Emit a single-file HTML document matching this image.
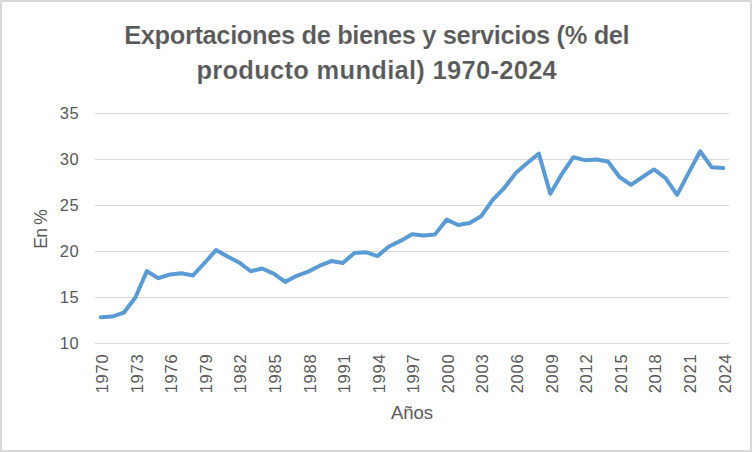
<!DOCTYPE html>
<html><head><meta charset="utf-8"><style>
html,body{margin:0;padding:0;background:#fff;}
body{width:752px;height:452px;overflow:hidden;}
svg{display:block;}
text{font-family:"Liberation Sans",sans-serif;fill:#595959;}
</style></head><body>
<svg width="752" height="452" viewBox="0 0 752 452">
<rect x="0" y="0" width="752" height="452" fill="#d9d9d9"/>
<rect x="2" y="2" width="748" height="448" fill="#ffffff"/>
<g font-weight="bold" font-size="25.5" stroke="#ffffff" stroke-width="0.15">
<text x="376.75" y="43.8" text-anchor="middle" letter-spacing="-0.39">Exportaciones de bienes y servicios (% del</text>
<text x="376.75" y="78.7" text-anchor="middle" letter-spacing="0.29">producto mundial) 1970-2024</text>
</g>
<rect x="95" y="113" width="634" height="1" fill="#d9d9d9"/><rect x="95" y="159" width="634" height="1" fill="#d9d9d9"/><rect x="95" y="205" width="634" height="1" fill="#d9d9d9"/><rect x="95" y="251" width="634" height="1" fill="#d9d9d9"/><rect x="95" y="297" width="634" height="1" fill="#d9d9d9"/><rect x="95" y="343" width="634" height="1" fill="#d9d9d9"/>
<g font-size="16.5" letter-spacing="0.6"><text x="79.3" y="119.2" text-anchor="end">35</text><text x="79.3" y="165.2" text-anchor="end">30</text><text x="79.3" y="211.2" text-anchor="end">25</text><text x="79.3" y="257.2" text-anchor="end">20</text><text x="79.3" y="303.2" text-anchor="end">15</text><text x="79.3" y="349.2" text-anchor="end">10</text></g>
<g font-size="16.5" letter-spacing="0.75"><text transform="translate(108.06,353.6) rotate(-90)" text-anchor="end">1970</text><text transform="translate(142.65,353.6) rotate(-90)" text-anchor="end">1973</text><text transform="translate(177.23,353.6) rotate(-90)" text-anchor="end">1976</text><text transform="translate(211.81,353.6) rotate(-90)" text-anchor="end">1979</text><text transform="translate(246.39,353.6) rotate(-90)" text-anchor="end">1982</text><text transform="translate(280.97,353.6) rotate(-90)" text-anchor="end">1985</text><text transform="translate(315.55,353.6) rotate(-90)" text-anchor="end">1988</text><text transform="translate(350.14,353.6) rotate(-90)" text-anchor="end">1991</text><text transform="translate(384.72,353.6) rotate(-90)" text-anchor="end">1994</text><text transform="translate(419.30,353.6) rotate(-90)" text-anchor="end">1997</text><text transform="translate(453.88,353.6) rotate(-90)" text-anchor="end">2000</text><text transform="translate(488.46,353.6) rotate(-90)" text-anchor="end">2003</text><text transform="translate(523.05,353.6) rotate(-90)" text-anchor="end">2006</text><text transform="translate(557.63,353.6) rotate(-90)" text-anchor="end">2009</text><text transform="translate(592.21,353.6) rotate(-90)" text-anchor="end">2012</text><text transform="translate(626.79,353.6) rotate(-90)" text-anchor="end">2015</text><text transform="translate(661.37,353.6) rotate(-90)" text-anchor="end">2018</text><text transform="translate(695.95,353.6) rotate(-90)" text-anchor="end">2021</text><text transform="translate(730.54,353.6) rotate(-90)" text-anchor="end">2024</text></g>
<text font-size="17.5" letter-spacing="-0.8" transform="translate(47.3,229.4) rotate(-90)" text-anchor="middle">En %</text>
<text font-size="18.5" x="412" y="419" text-anchor="middle">Años</text>
<polyline points="100.76,317.28 112.29,316.54 123.82,312.68 135.35,297.50 146.87,271.10 158.40,278.18 169.93,274.50 181.45,273.30 192.98,275.42 204.51,263.00 216.04,250.12 227.56,256.56 239.09,262.45 250.62,271.28 262.15,268.52 273.67,273.58 285.20,281.86 296.73,275.79 308.25,271.65 319.78,265.67 331.31,261.07 342.84,263.00 354.36,252.88 365.89,252.14 377.42,256.10 388.95,246.44 400.47,240.92 412.00,234.20 423.53,235.40 435.05,234.39 446.58,219.67 458.11,225.00 469.64,223.07 481.16,216.26 492.69,199.80 504.22,188.02 515.75,173.12 527.27,163.00 538.80,153.61 550.33,193.72 561.85,174.04 573.38,157.20 584.91,160.14 596.44,159.41 607.96,161.52 619.49,176.98 631.02,184.80 642.55,176.98 654.07,169.44 665.60,178.18 677.13,194.92 688.65,172.84 700.18,151.22 711.71,167.32 723.24,168.06" fill="none" stroke="#5b9bd5" stroke-width="4" stroke-linejoin="round" stroke-linecap="round"/>
</svg>
</body></html>
